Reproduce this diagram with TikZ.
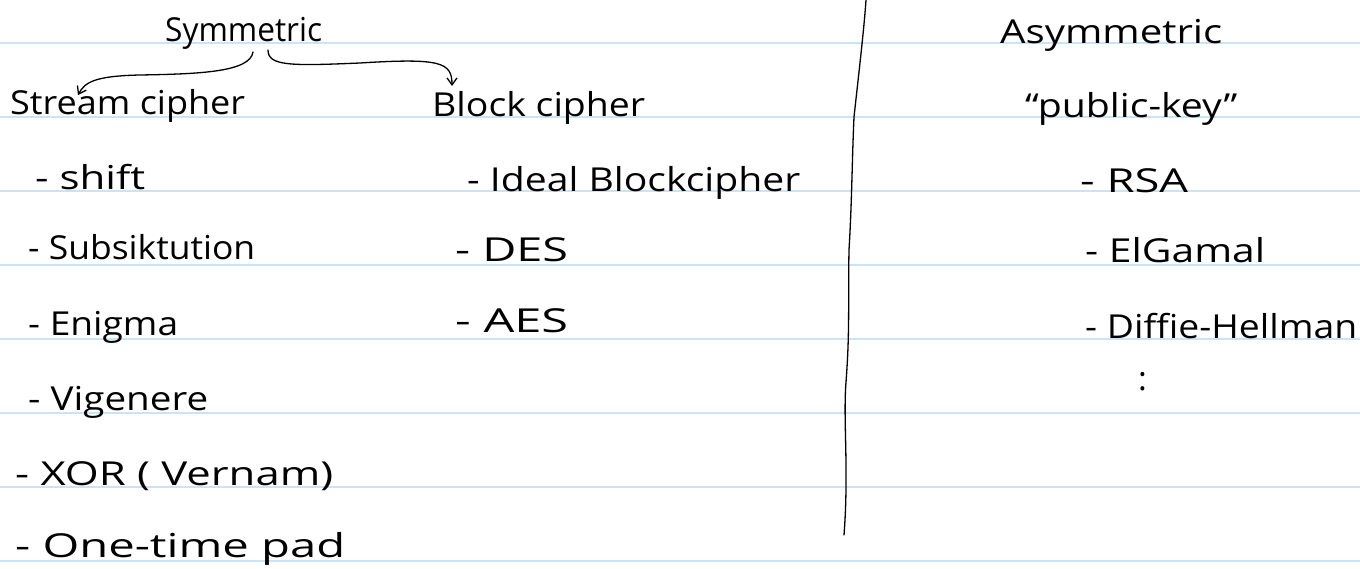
\documentclass[tikz,border=0pt]{standalone}
\usepackage{fontspec}
\setmainfont{Open Sans}
\usetikzlibrary{arrows.meta}
\newlength\hwlen
\newcommand\hwfit[2]{\settowidth\hwlen{#2}\pgfmathsetmacro\hwf{#1/\hwlen}\scalebox{\hwf}[1]{#2}}
\begin{document}
\begin{tikzpicture}[x=1pt,y=-1pt,
  hw/.style={anchor=base west,inner sep=0pt,font=\fontsize{33}{35}\selectfont},
  rule/.style={draw={rgb,255:red,200;green,228;blue,245},line width=1.2pt},
  ink/.style={draw=black,line width=1.3pt,line cap=round,line join=round},
  barb/.style={-{Straight Barb[length=7pt,width=10pt]}}]
\useasboundingbox (0,0) rectangle (1360,569);
\fill[white] (0,0) rectangle (1360,569);
\foreach \y in {43,117,191,265,339,413,487,561}
  \draw[rule] (0,\y) -- (1360,\y);
% left column
\node[hw] (sym) at (165,42) {\hwfit{157}{Symmetric}};
\node[hw] (stream) at (10,115) {\hwfit{235}{Stream cipher}};
\node[hw] (block) at (432,117) {\hwfit{213}{Block cipher}};
\node[hw] (s1) at (35,190) {\hwfit{110}{- shift}};
\node[hw] (s2) at (28,260) {\hwfit{227}{- Subsiktution}};
\node[hw] (s3) at (28,335) {\hwfit{150}{- Enigma}};
\node[hw] (s4) at (28,410) {\hwfit{180}{- Vigenere}};
\node[hw] (s5) at (15,485) {\hwfit{318}{- XOR ( Vernam)}};
\node[hw] (s6) at (15,557) {\hwfit{330}{- One-time pad}};
\node[hw] (b1) at (467,192) {\hwfit{333}{- Ideal Blockcipher}};
\node[hw] (b2) at (455,262) {\hwfit{113}{- DES}};
\node[hw] (b3) at (455,332) {\hwfit{113}{- AES}};
% right column
\node[hw] (asym) at (1000,44) {\hwfit{222}{Asymmetric}};
\node[hw] (pk) at (1025,118) {\hwfit{212}{``public-key''}};
\node[hw] (a1) at (1080,193) {\hwfit{108}{- RSA}};
\node[hw] (a2) at (1085,263) {\hwfit{180}{- ElGamal}};
\node[hw] (a3) at (1085,338) {\hwfit{272}{- Diffie-Hellman}};
\node[hw] (a4) at (1138,390) {:};
% connectors
\coordinate (symA) at (253,52);
\coordinate (symB) at (268,50);
\draw[ink,barb] (symA) .. controls (250,72) and (200,74) .. (140,75)
  .. controls (95,76) and (85,82) .. (78,95);
\draw[ink,barb] (symB) .. controls (268,66) and (290,66) .. (360,63)
  .. controls (440,58) and (452,62) .. (452,86);
% divider
\draw[ink] (866,0) .. controls (864,30) and (858,80) .. (854,117)
  .. controls (852,160) and (852,200) .. (849,250)
  .. controls (848,300) and (850,330) .. (846,382)
  .. controls (843,420) and (849,470) .. (844,535);
\end{tikzpicture}
\end{document}
